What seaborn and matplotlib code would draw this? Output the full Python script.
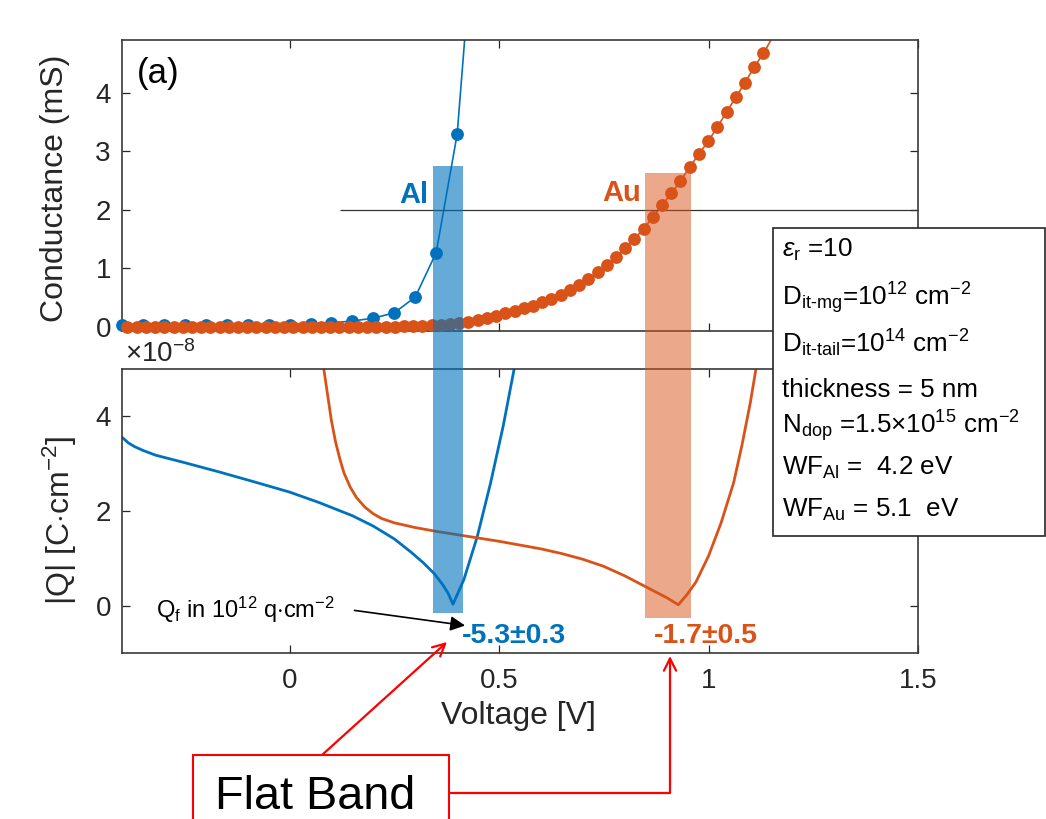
import numpy as np
import pandas as pd
import matplotlib
matplotlib.use('Agg')
import matplotlib.pyplot as plt
from matplotlib.patches import Rectangle, FancyArrowPatch
from matplotlib.lines import Line2D
import seaborn as sns

# conductance (mS) vs voltage, Al contact
g_al_v = [-0.4, -0.35, -0.3, -0.25, -0.2, -0.15, -0.1, -0.05, 0.0, 0.05,
          0.1, 0.15, 0.2, 0.25, 0.3, 0.35, 0.4, 0.45]
g_al = [0.04, 0.04, 0.04, 0.04, 0.04, 0.04, 0.04, 0.04, 0.04, 0.05,
        0.07, 0.1, 0.15, 0.24, 0.51, 1.27, 3.29, 7.8]

# conductance (mS) vs voltage, Au contact
g_au_v = [-0.387, -0.365, -0.343, -0.321, -0.299, -0.277, -0.255, -0.233, -0.211, -0.189,
          -0.167, -0.145, -0.123, -0.101, -0.079, -0.057, -0.035, -0.013, 0.009, 0.031,
          0.053, 0.075, 0.097, 0.119, 0.141, 0.163, 0.185, 0.207, 0.229, 0.251,
          0.273, 0.295, 0.317, 0.339, 0.361, 0.383, 0.405, 0.427, 0.449, 0.471,
          0.493, 0.515, 0.537, 0.559, 0.581, 0.603, 0.625, 0.647, 0.669, 0.691,
          0.713, 0.735, 0.757, 0.779, 0.801, 0.823, 0.845, 0.867, 0.889, 0.911,
          0.933, 0.955, 0.977, 0.999, 1.021, 1.043, 1.065, 1.087, 1.109, 1.131, 1.153]
g_au = [0.0, 0.0, 0.0, 0.0, 0.0, 0.0, 0.0, 0.0, 0.0, 0.0,
        0.0, 0.0, 0.0, 0.0, 0.0, 0.0, 0.0, 0.0, 0.0, 0.0,
        0.0, 0.0, 0.0, 0.0, 0.0, 0.0, 0.0, 0.0, 0.0, 0.005,
        0.008, 0.012, 0.016, 0.024, 0.035, 0.05, 0.067, 0.09, 0.115, 0.15,
        0.19, 0.23, 0.27, 0.32, 0.36, 0.42, 0.47, 0.55, 0.63, 0.72,
        0.82, 0.93, 1.05, 1.19, 1.34, 1.50, 1.68, 1.87, 2.08, 2.28,
        2.49, 2.73, 2.95, 3.17, 3.41, 3.67, 3.92, 4.17, 4.44, 4.67, 4.95]

# |Q| in units of 1e-8 C/cm^2
q_al_v = [-0.4, -0.385, -0.37, -0.35, -0.32, -0.25, -0.17, -0.09, 0.0, 0.07,
          0.15, 0.2, 0.25, 0.29, 0.32, 0.345, 0.365, 0.378, 0.39, 0.416,
          0.448, 0.48, 0.51, 0.536, 0.56]
q_al = [3.56, 3.44, 3.36, 3.28, 3.18, 3.02, 2.83, 2.63, 2.4, 2.18,
        1.9, 1.68, 1.41, 1.13, 0.9, 0.68, 0.45, 0.27, 0.03, 0.55,
        1.46, 2.6, 3.8, 5.0, 6.1]
q_au_v = [0.08, 0.09, 0.10, 0.11, 0.12, 0.13, 0.145, 0.16, 0.18, 0.20,
          0.22, 0.25, 0.30, 0.35, 0.40, 0.45, 0.50, 0.55, 0.60, 0.65,
          0.70, 0.75, 0.80, 0.85, 0.90, 0.928, 0.95, 0.97, 1.00, 1.03,
          1.06, 1.08, 1.10, 1.115]
q_au = [5.1, 4.5, 3.9, 3.45, 3.1, 2.8, 2.5, 2.28, 2.08, 1.94,
        1.84, 1.75, 1.65, 1.57, 1.5, 1.43, 1.36, 1.28, 1.2, 1.1,
        0.98, 0.83, 0.63, 0.40, 0.17, 0.02, 0.25, 0.5, 1.05, 1.75,
        2.6, 3.4, 4.3, 5.1]

# flat band windows
fb_names = ['Al', 'Au']
fb_left = [0.343, 0.848]
fb_right = [0.414, 0.957]
fb_top = [2.75, 2.62]       # conductance axis
fb_bottom = [-0.15, -0.25]  # |Q| axis
fb_qf = ['-5.3\u00b10.3', '-1.7\u00b10.5']
ref_level = 2.0
ref_start = 0.12

xticks = [0, 0.5, 1, 1.5]
xtick_labels = ['0', '0.5', '1', '1.5']

blue = '#0072BD'
orange = '#D95319'
dark = '#262626'

sns.set_style('ticks')
plt.rcParams['font.family'] = ['Liberation Sans', 'DejaVu Sans']
plt.rcParams['mathtext.fontset'] = 'custom'
plt.rcParams['mathtext.rm'] = 'Liberation Sans'
plt.rcParams['mathtext.it'] = 'Liberation Sans:italic'
plt.rcParams['mathtext.bf'] = 'Liberation Sans:bold'

W, H = 1046, 819
fig = plt.figure(figsize=(W / 100, H / 100), dpi=100)


def fx(px):
    return px / W


def fy(py):
    return 1 - py / H


ax1 = fig.add_axes([fx(122), fy(331), (918 - 122) / W, (331 - 40) / H])
ax2 = fig.add_axes([fx(122), fy(653), (918 - 122) / W, (653 - 369) / H])

# top: conductance
ymax1 = 4.9
sns.lineplot(x=g_al_v, y=g_al, ax=ax1, color=blue, linewidth=1.2, estimator=None, sort=False)
g_al_in = [(v, g) for v, g in zip(g_al_v, g_al) if g <= ymax1]
sns.scatterplot(x=[p[0] for p in g_al_in], y=[p[1] for p in g_al_in], ax=ax1,
                color=blue, s=85, linewidth=0, clip_on=False, zorder=3)
sns.lineplot(x=g_au_v, y=g_au, ax=ax1, color=orange, linewidth=1.2, estimator=None, sort=False)
g_au_in = [(v, g) for v, g in zip(g_au_v, g_au) if g <= ymax1]
sns.scatterplot(x=[p[0] for p in g_au_in], y=[p[1] for p in g_au_in], ax=ax1,
                color=orange, s=85, linewidth=0, clip_on=False, zorder=4)
ax1.hlines(ref_level, ref_start, 1.5, color='#333333', lw=0.9, zorder=2)
ax1.set_xlim(-0.4, 1.5)
ax1.set_ylim(-0.07, ymax1)
ax1.set_yticks([0, 1, 2, 3, 4])
ax1.set_yticklabels(['0', '1', '2', '3', '4'])
ax1.set_xticks(xticks)
ax1.tick_params(labelbottom=False)
ax1.text(0.019, 0.885, '(a)', transform=ax1.transAxes, fontsize=25, va='center', color='black')

# bottom: |Q|
sns.lineplot(x=q_al_v, y=q_al, ax=ax2, color=blue, linewidth=2.0, estimator=None, sort=False)
sns.lineplot(x=q_au_v, y=q_au, ax=ax2, color=orange, linewidth=2.0, estimator=None, sort=False)
ax2.set_xlim(-0.4, 1.5)
ax2.set_ylim(-1, 5)
ax2.set_yticks([0, 2, 4])
ax2.set_yticklabels(['0', '2', '4'])
ax2.set_xticks(xticks)
ax2.set_xticklabels(xtick_labels)

for ax in (ax1, ax2):
    ax.set_xlabel('')
    ax.set_ylabel('')
    ax.tick_params(direction='in', length=6, width=0.9, top=True, right=True,
                   labelsize=20, colors=dark, labelcolor=dark)
    ax.tick_params(axis='y', pad=8)
    ax.tick_params(axis='x', pad=11)
    for sp in ax.spines.values():
        sp.set_color('#3a3a3a')
        sp.set_linewidth(1.2)

# flat band bars spanning both panels
inv = fig.transFigure.inverted()
colors = [blue, orange]
alphas = [0.6, 0.5]
for i, name in enumerate(fb_names):
    x0, y1 = inv.transform(ax1.transData.transform((fb_left[i], fb_top[i])))
    x1, y0 = inv.transform(ax2.transData.transform((fb_right[i], fb_bottom[i])))
    fig.add_artist(Rectangle((x0, y0), x1 - x0, y1 - y0, transform=fig.transFigure,
                             facecolor=colors[i], alpha=alphas[i], edgecolor='none', zorder=1))

ax1.text(fb_left[0] - 0.012, 2.26, 'Al', color=blue, fontsize=21, fontweight='bold',
         ha='right', va='center')
ax1.text(fb_left[1] - 0.008, 2.29, 'Au', color=orange, fontsize=21, fontweight='bold',
         ha='right', va='center')
ax2.text(0.412, -0.78, fb_qf[0], color=blue, fontsize=20.5, fontweight='bold',
         va='baseline', ha='left', clip_on=False)
ax2.text(0.869, -0.78, fb_qf[1], color=orange, fontsize=20.5, fontweight='bold',
         va='baseline', ha='left', clip_on=False)
ax2.text(-0.319, -0.25, r'Q$_{\mathrm{f}}$ in 10$^{12}$ q$\cdot$cm$^{-2}$', fontsize=17,
         va='baseline', ha='left', color='black')
ax2.annotate('', xy=(0.419, -0.42), xytext=(0.155, -0.1),
             arrowprops=dict(arrowstyle='-|>', color='black', lw=1.2, mutation_scale=22,
                             shrinkA=0, shrinkB=0))

# axis labels
fig.text(fx(55), fy(188), 'Conductance (mS)', rotation=90, ha='center', va='center',
         fontsize=23, color=dark)
fig.text(fx(60), fy(520), r'|Q| [C$\cdot$cm$^{-2}$]', rotation=90, ha='center', va='center',
         fontsize=23, color=dark)
fig.text(fx(518), fy(716), 'Voltage [V]', ha='center', va='center', fontsize=23, color=dark)
fig.text(fx(125), fy(362), r'$\times$10$^{-8}$', ha='left', va='baseline', fontsize=20, color=dark)

# parameter box
fig.add_artist(Rectangle((fx(773), fy(536)), (1045 - 773) / W, (536 - 228) / H,
                         transform=fig.transFigure, facecolor='white', edgecolor=dark,
                         lw=1.2, zorder=5))
box_lines = [r'$\epsilon_{\mathrm{r}}$ =10',
             r'D$_{\mathrm{it\text{-}mg}}$=10$^{12}$ cm$^{-2}$',
             r'D$_{\mathrm{it\text{-}tail}}$=10$^{14}$ cm$^{-2}$',
             'thickness = 5 nm',
             r'N$_{\mathrm{dop}}$ =1.5$\times$10$^{15}$ cm$^{-2}$',
             r'WF$_{\mathrm{Al}}$ =  4.2 eV',
             r'WF$_{\mathrm{Au}}$ = 5.1  eV']
box_base = [257, 305, 352, 397, 433, 475, 517]
for txt, b in zip(box_lines, box_base):
    fig.text(fx(782), fy(b), txt, ha='left', va='baseline', fontsize=18.7, color='black', zorder=6)

# flat band callout
red = '#FF0000'
fig.add_artist(Rectangle((fx(193), fy(840)), (449 - 193) / W, (840 - 755) / H,
                         transform=fig.transFigure, facecolor='white', edgecolor=red,
                         lw=1.5, zorder=5))
fig.text(fx(215), fy(809), 'Flat Band', ha='left', va='baseline', fontsize=33.7,
         color='black', zorder=6)
fig.add_artist(FancyArrowPatch((fx(322), fy(755)), (fx(447), fy(642)), transform=fig.transFigure,
                               arrowstyle='->', mutation_scale=22, color=red, lw=1.6, zorder=6,
                               shrinkA=0, shrinkB=0))
fig.add_artist(Line2D([fx(449), fx(670)], [fy(793), fy(793)], transform=fig.transFigure,
                      color=red, lw=1.6, zorder=6))
fig.add_artist(FancyArrowPatch((fx(670), fy(793)), (fx(670), fy(656)), transform=fig.transFigure,
                               arrowstyle='->', mutation_scale=22, color=red, lw=1.6, zorder=6,
                               shrinkA=0, shrinkB=0))

fig.savefig('out.png', dpi=100)
